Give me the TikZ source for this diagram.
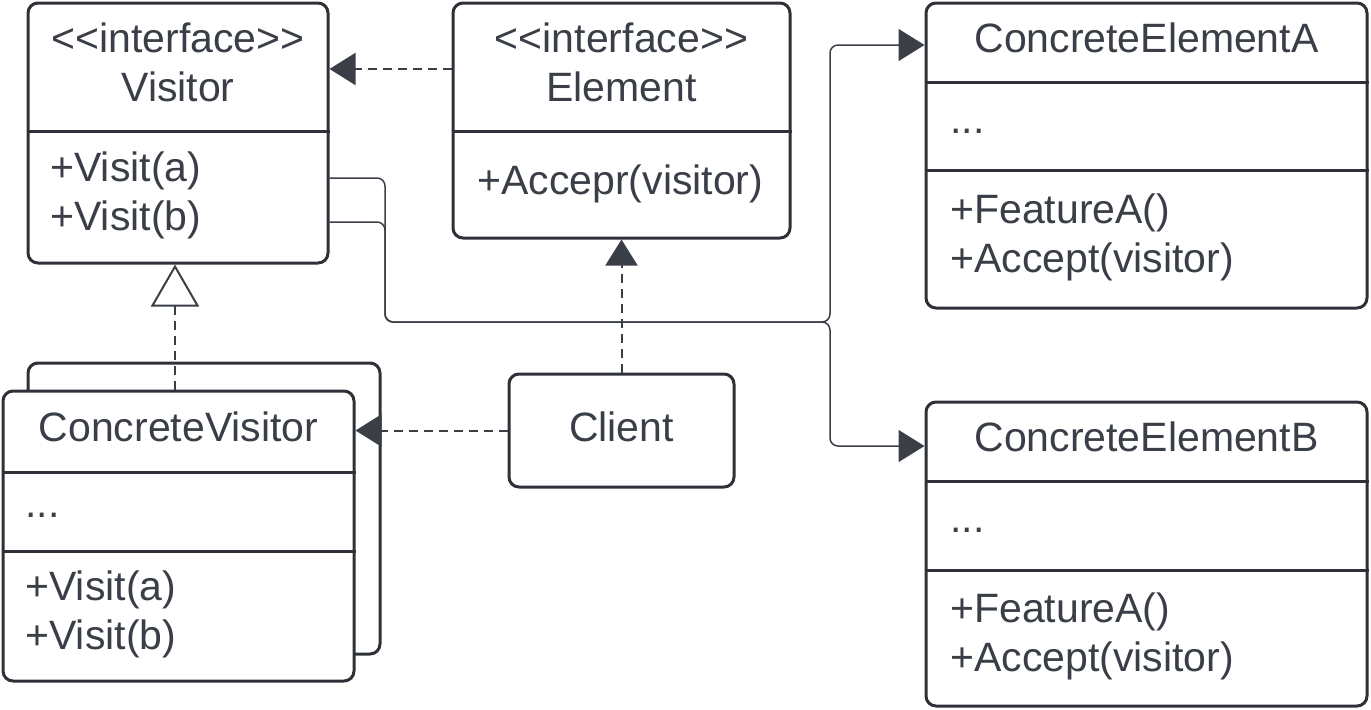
\documentclass[tikz,border=0pt]{standalone}
\usepackage{fontspec}
\setmainfont{Liberation Sans}
\usetikzlibrary{
  arrows.meta,
  calc,
  positioning}
\definecolor{umlline}{HTML}{2E3238}
\definecolor{umltext}{HTML}{3A3F47}
\newcommand{\guil}[1]{<\kern0pt<#1>\kern0pt>}
\tikzset{
  classbox/.style={draw=umlline,line width=1.5pt,rounded corners=5pt,fill=white,inner sep=0pt},
  sepline/.style={draw=umlline,line width=1.5pt},
  title/.style={text=umltext,align=center,inner sep=0pt,font=\fontsize{20.5}{24.5}\selectfont},
  member/.style={text=umltext,align=left,anchor=west,inner sep=0pt,font=\fontsize{20.5}{24.5}\selectfont},
  dep/.style={draw=umltext,line width=1pt,dash pattern=on 4.5pt off 3pt,-{Triangle[length=13pt,width=16pt]}},
  real/.style={draw=umltext,line width=1pt,dash pattern=on 4.5pt off 3pt,-{Triangle[open,fill=white,length=21pt,width=24pt,line width=1pt]}},
  assoc/.style={draw=umltext,line width=0.75pt,rounded corners=4pt,-{Triangle[length=13pt,width=16pt]}}
}
\begin{document}
\begin{tikzpicture}[x=0.5pt,y=-0.5pt]
            \useasboundingbox (0,0) rectangle (1371,709);
            % classes
            \node[classbox,minimum width=150pt,minimum height=130pt] (vis) at (178,133) {};
            \node[classbox,minimum width=168.5pt,minimum height=117.5pt] (elem) at (621.5,120.5) {};
            \node[classbox,minimum width=220.5pt,minimum height=152.5pt] (ceA) at (1146.5,155.5) {};
            \node[classbox,minimum width=220.5pt,minimum height=152pt] (ceB) at (1146.5,554) {};
            \node[classbox,minimum width=176pt,minimum height=145.5pt] (cvback) at (204,508.5) {};
            \node[classbox,minimum width=175.5pt,minimum height=145pt] (cv) at (178.5,536) {};
            \node[classbox,minimum width=112.5pt,minimum height=56.5pt] (client) at (621.5,430.5) {};
            \draw[sepline] (vis.west |- 0,131) -- (vis.east |- 0,131);
            \draw[sepline] (elem.west |- 0,131) -- (elem.east |- 0,131);
            \draw[sepline] (ceA.west |- 0,82) -- (ceA.east |- 0,82);
            \draw[sepline] (ceA.west |- 0,170) -- (ceA.east |- 0,170);
            \draw[sepline] (ceB.west |- 0,481) -- (ceB.east |- 0,481);
            \draw[sepline] (ceB.west |- 0,570) -- (ceB.east |- 0,570);
            \draw[sepline] (cv.west |- 0,472) -- (cv.east |- 0,472);
            \draw[sepline] (cv.west |- 0,551) -- (cv.east |- 0,551);
            % texts
            \node[title] (visname) at (178,62.5) {\guil{interface}\\Visitor};
            \node[member] (visops) at (50,195.5) {+Visit(a)\\+Visit(b)};
            \node[title] (elemname) at (621.5,62.5) {\guil{interface}\\Element};
            \node[member] (elemops) at (477,184) {+Accepr(visitor)};
            \node[title] (ceAname) at (1146.5,38) {ConcreteElementA};
            \node[member] (ceAattr) at (950,131) {...};
            \node[member] (ceAops) at (950,237.5) {+FeatureA()\\+Accept(visitor)};
            \node[title] (ceBname) at (1146.5,437) {ConcreteElementB};
            \node[member] (ceBattr) at (950,530) {...};
            \node[member] (ceBops) at (950,636) {+FeatureA()\\+Accept(visitor)};
            \node[title] (cvname) at (178.5,427) {ConcreteVisitor};
            \node[member] (cvattr) at (25,515) {...};
            \node[member] (cvops) at (25,614) {+Visit(a)\\+Visit(b)};
            \node[title] (clientname) at (621.5,427) {Client};
            % relations
            \draw[dep] (elem.west |- 0,69) -- (vis.east |- 0,69);
            \draw[dep] (client.north) -- (elem.south);
            \draw[dep] (client.west) -- (cv.east |- client.west);
            \draw[real] (cv.north -| 175,0) -- (vis.south -| 175,0);
            \draw[assoc] (vis.east |- 0,178) -- (385,178) -- (385,322) -- (830,322) -- (830,45) -- (ceA.west |- 0,45);
            \draw[assoc] (vis.east |- 0,222) -- (385,222) -- (385,322) -- (830,322) -- (830,446) -- (ceB.west |- 0,446);
        \end{tikzpicture}
\end{document}
